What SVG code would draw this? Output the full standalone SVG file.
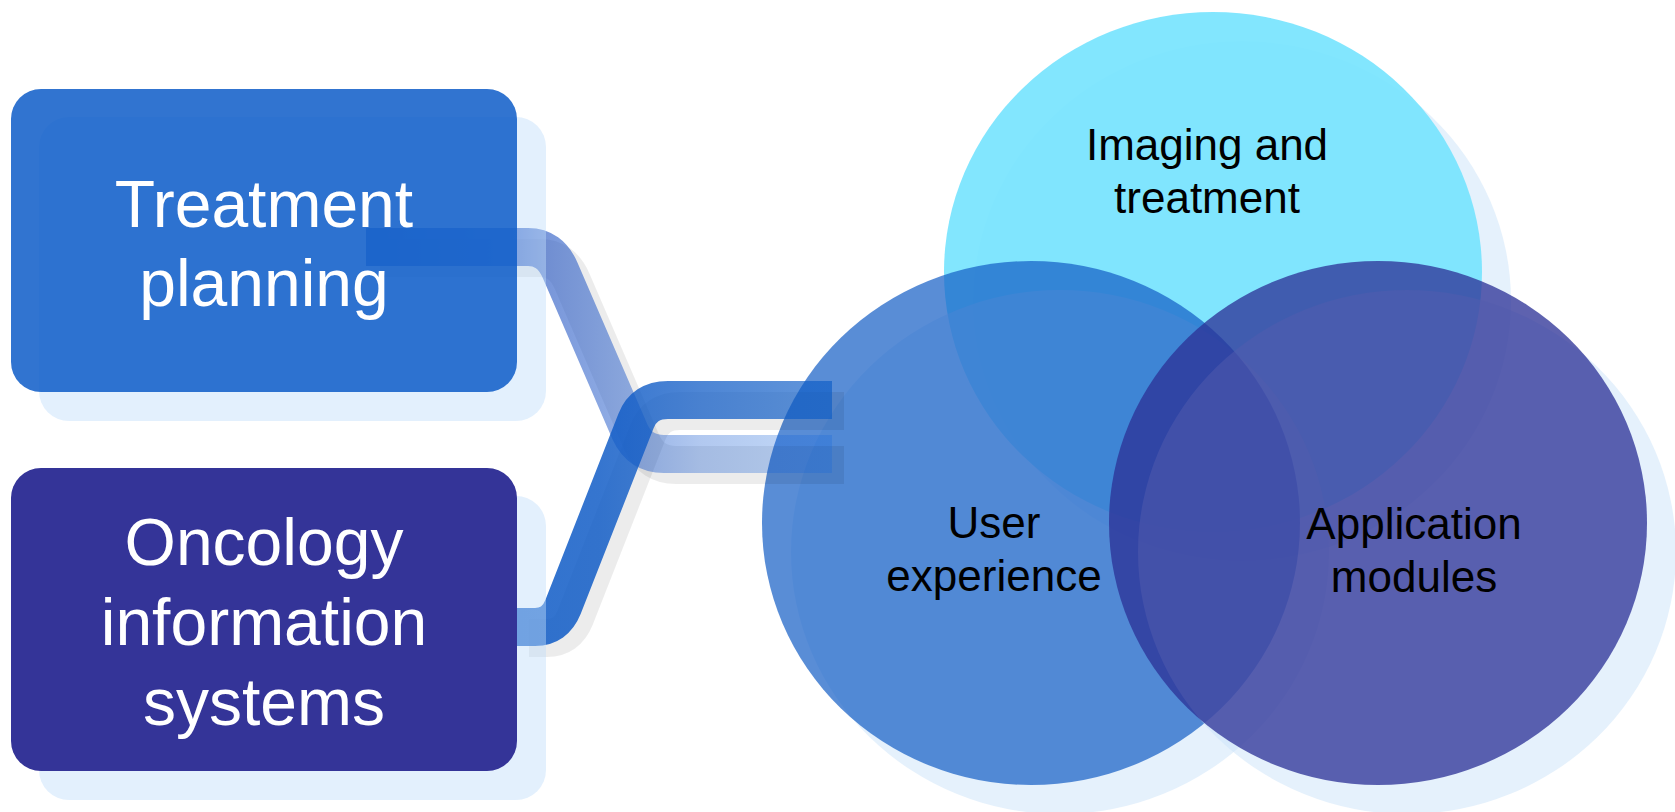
<svg xmlns="http://www.w3.org/2000/svg" width="1675" height="812" viewBox="0 0 1675 812">
<style>
.lbl{font-family:"Liberation Sans",Arial,sans-serif;text-anchor:middle}
.boxt{fill:#ffffff;font-size:66px}
.cirt{fill:#000000;font-size:44px}
.bshadow{fill:#C1DEFB;opacity:0.45}
.cshadow{fill:#CBE3F9;opacity:0.5}
.band{fill:none;stroke-width:38;stroke-linecap:butt}
.bandsh{fill:none;stroke:#000;stroke-opacity:0.075;stroke-width:38}
</style>
<defs>
<linearGradient id="gA" gradientUnits="userSpaceOnUse" x1="350" y1="0" x2="832" y2="0">
<stop offset="0" stop-color="#1E50C0" stop-opacity="0.92"/>
<stop offset="0.346" stop-color="#1E50C0" stop-opacity="0.72"/>
<stop offset="0.407" stop-color="#1E50C0" stop-opacity="0.6"/>
<stop offset="0.56" stop-color="#1A55C8" stop-opacity="0.48"/>
<stop offset="0.726" stop-color="#1459D0" stop-opacity="0.33"/>
<stop offset="1" stop-color="#0A62DE" stop-opacity="0.24"/>
</linearGradient>
<linearGradient id="gB" gradientUnits="userSpaceOnUse" x1="517" y1="0" x2="832" y2="0">
<stop offset="0" stop-color="#0F5BC6" stop-opacity="0.86"/>
<stop offset="0.263" stop-color="#0F5BC6" stop-opacity="0.84"/>
<stop offset="0.58" stop-color="#0F5BC6" stop-opacity="0.74"/>
<stop offset="1" stop-color="#0A5BC6" stop-opacity="0.64"/>
</linearGradient>
</defs>
<rect width="1675" height="812" fill="#ffffff"/>

<g id="imaging">
<ellipse class="cshadow" cx="1242" cy="301" rx="269" ry="260"/>
<ellipse cx="1213" cy="272" rx="269" ry="260" fill="#79E4FE" fill-opacity="0.93"/>
</g>
<g id="user-experience">
<ellipse class="cshadow" cx="1060" cy="552" rx="269" ry="262"/>
<ellipse cx="1031" cy="523" rx="269" ry="262" fill="#125CC4" fill-opacity="0.7"/>
</g>
<g id="application">
<ellipse class="cshadow" cx="1407" cy="552" rx="269" ry="262"/>
<ellipse cx="1378" cy="523" rx="269" ry="262" fill="#2C3096" fill-opacity="0.76"/>
</g>

<g id="connectors">
<g transform="translate(12,11)">
<path class="bandsh" d="M 368 247 H 528 Q 550 247 560 270 L 630 432 Q 640 454 664 454 H 832"/>
<path class="bandsh" d="M 517 627 H 535 Q 555 627 563 607 L 636 421 Q 644 400 668 400 H 832"/>
</g>
<path class="band" stroke="url(#gA)" d="M 366 247 H 528 Q 550 247 560 270 L 630 432 Q 640 454 664 454 H 832"/>
<path class="band" stroke="url(#gB)" d="M 517 627 H 535 Q 555 627 563 607 L 636 421 Q 644 400 668 400 H 832"/>
</g>

<g id="treatment-planning">
<rect class="bshadow" x="39" y="117" width="507" height="304" rx="30"/>
<rect x="11" y="89" width="506" height="303" rx="30" fill="#0D5CC8" fill-opacity="0.85"/>
<text class="lbl boxt" x="264" y="227">Treatment</text>
<text class="lbl boxt" x="264" y="306">planning</text>
</g>

<g id="oncology">
<rect class="bshadow" x="39" y="496" width="507" height="304" rx="30"/>
<rect x="11" y="468" width="506" height="303" rx="30" fill="#343498"/>
<text class="lbl boxt" x="264" y="565">Oncology</text>
<text class="lbl boxt" x="264" y="645">information</text>
<text class="lbl boxt" x="264" y="725">systems</text>
</g>

<g id="circle-labels">
<text class="lbl cirt" x="1207" y="160">Imaging and</text>
<text class="lbl cirt" x="1207" y="213">treatment</text>
<text class="lbl cirt" x="994" y="538">User</text>
<text class="lbl cirt" x="994" y="591">experience</text>
<text class="lbl cirt" x="1414" y="539">Application</text>
<text class="lbl cirt" x="1414" y="592">modules</text>
</g>
</svg>
